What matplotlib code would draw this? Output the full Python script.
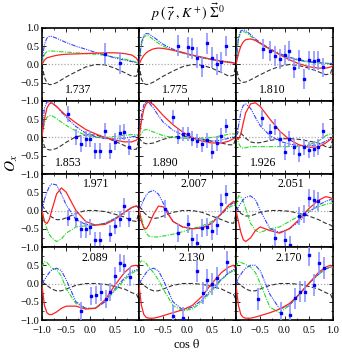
import matplotlib
matplotlib.use('Agg')
import matplotlib.pyplot as plt
import numpy as np

plt.rcParams['font.family'] = ['Liberation Serif', 'DejaVu Serif']
plt.rcParams['mathtext.fontset'] = 'stix'
plt.rcParams['axes.unicode_minus'] = True

# common cos(theta) nodes for model curves
grid = [-1.0, -0.95, -0.9, -0.85, -0.8, -0.7, -0.6, -0.5, -0.3, -0.1, 0.1, 0.3, 0.5, 0.7, 0.85, 0.95, 1.0]

energies = ['1.737', '1.775', '1.810', '1.853', '1.890', '1.926',
            '1.971', '2.007', '2.051', '2.089', '2.130', '2.170']

red = [
    [0.0, 0.12, 0.18, 0.2, 0.22, 0.25, 0.27, 0.28, 0.29, 0.3, 0.31, 0.32, 0.32, 0.3, 0.26, 0.17, 0.05],
    [0.0, 0.15, 0.25, 0.32, 0.37, 0.43, 0.45, 0.44, 0.39, 0.33, 0.26, 0.2, 0.14, 0.09, 0.06, 0.04, 0.02],
    [0.0, 0.3, 0.5, 0.62, 0.68, 0.7, 0.66, 0.58, 0.42, 0.27, 0.13, 0.02, -0.06, -0.1, -0.1, -0.07, -0.03],
    [0.05, 0.5, 0.8, 0.92, 0.95, 0.85, 0.72, 0.6, 0.4, 0.22, 0.1, 0.0, -0.07, -0.12, -0.12, -0.07, 0.0],
    [0.0, 0.45, 0.78, 0.93, 0.98, 0.9, 0.75, 0.6, 0.35, 0.15, 0.0, -0.1, -0.15, -0.15, -0.1, -0.03, 0.0],
    [0.0, -0.05, 0.1, 0.4, 0.68, 0.92, 0.95, 0.85, 0.5, 0.18, -0.06, -0.2, -0.27, -0.26, -0.15, -0.05, 0.0],
    [0.0, -0.3, -0.36, -0.25, 0.0, 0.45, 0.62, 0.5, 0.0, -0.3, -0.4, -0.38, -0.25, -0.05, 0.08, 0.13, 0.07],
    [0.05, -0.3, -0.48, -0.5, -0.4, -0.1, 0.12, 0.1, -0.3, -0.45, -0.5, -0.48, -0.35, -0.08, 0.15, 0.25, 0.2],
    [0.0, -0.3, -0.6, -0.8, -0.85, -0.75, -0.55, -0.45, -0.55, -0.62, -0.5, -0.25, 0.05, 0.28, 0.38, 0.35, 0.3],
    [-0.05, -0.6, -0.8, -0.85, -0.85, -0.78, -0.68, -0.62, -0.62, -0.7, -0.68, -0.45, -0.05, 0.3, 0.48, 0.5, 0.42],
    [-0.05, -0.6, -0.85, -0.93, -0.95, -0.95, -0.92, -0.88, -0.8, -0.72, -0.6, -0.35, 0.0, 0.3, 0.45, 0.5, 0.4],
    [-0.05, -0.6, -0.85, -0.93, -0.95, -0.95, -0.92, -0.88, -0.8, -0.7, -0.55, -0.3, 0.0, 0.3, 0.45, 0.5, 0.45],
]
green = [
    [0.05, 0.28, 0.35, 0.37, 0.37, 0.36, 0.35, 0.34, 0.32, 0.3, 0.28, 0.25, 0.2, 0.15, 0.1, 0.06, 0.02],
    [0.05, 0.55, 0.75, 0.8, 0.78, 0.68, 0.58, 0.5, 0.4, 0.31, 0.24, 0.18, 0.13, 0.09, 0.06, 0.05, 0.03],
    [0.05, 0.7, 0.88, 0.9, 0.88, 0.78, 0.67, 0.57, 0.4, 0.28, 0.18, 0.11, 0.06, 0.04, 0.03, 0.02, 0.02],
    [0.05, 0.4, 0.55, 0.6, 0.6, 0.52, 0.42, 0.33, 0.18, 0.06, 0.0, 0.0, 0.03, 0.06, 0.08, 0.08, 0.07],
    [0.0, 0.12, 0.2, 0.22, 0.2, 0.15, 0.1, 0.05, 0.0, -0.02, -0.03, -0.02, 0.0, 0.05, 0.09, 0.1, 0.08],
    [0.05, -0.15, -0.27, -0.3, -0.28, -0.25, -0.25, -0.25, -0.25, -0.25, -0.25, -0.24, -0.2, -0.1, 0.05, 0.1, 0.07],
    [0.0, -0.3, -0.5, -0.65, -0.75, -0.85, -0.78, -0.62, -0.45, -0.42, -0.4, -0.35, -0.22, -0.05, 0.08, 0.12, 0.05],
    [0.0, -0.2, -0.45, -0.62, -0.7, -0.73, -0.72, -0.7, -0.65, -0.58, -0.5, -0.42, -0.3, -0.1, 0.08, 0.15, 0.12],
    [0.1, 0.4, 0.38, 0.25, 0.05, -0.35, -0.55, -0.6, -0.5, -0.45, -0.3, -0.15, 0.0, 0.1, 0.17, 0.2, 0.2],
    [0.45, 0.6, 0.58, 0.5, 0.42, 0.38, 0.2, -0.15, -0.55, -0.68, -0.68, -0.5, -0.2, 0.1, 0.28, 0.35, 0.3],
    [0.55, 0.62, 0.6, 0.55, 0.45, 0.3, 0.1, -0.15, -0.6, -0.75, -0.7, -0.5, -0.2, 0.1, 0.28, 0.35, 0.3],
    [0.45, 0.6, 0.58, 0.55, 0.52, 0.45, 0.3, 0.0, -0.65, -0.8, -0.6, -0.3, 0.0, 0.25, 0.4, 0.45, 0.42],
]
blue = [
    [0.1, 0.55, 0.72, 0.77, 0.77, 0.72, 0.66, 0.6, 0.5, 0.42, 0.33, 0.26, 0.18, 0.12, 0.08, 0.05, 0.02],
    [0.05, 0.6, 0.8, 0.85, 0.84, 0.75, 0.65, 0.55, 0.42, 0.32, 0.25, 0.19, 0.14, 0.1, 0.07, 0.05, 0.03],
    [0.05, 0.75, 0.92, 0.95, 0.93, 0.82, 0.7, 0.6, 0.43, 0.3, 0.2, 0.13, 0.08, 0.05, 0.04, 0.03, 0.02],
    [0.1, 0.8, 0.97, 0.98, 0.95, 0.85, 0.7, 0.55, 0.3, 0.12, 0.02, -0.03, -0.04, -0.02, 0.02, 0.04, 0.05],
    [0.0, 0.6, 0.9, 0.97, 0.96, 0.8, 0.6, 0.42, 0.2, 0.07, -0.02, -0.08, -0.1, -0.07, -0.02, 0.02, 0.03],
    [0.0, 0.3, 0.7, 0.88, 0.92, 0.8, 0.55, 0.32, 0.05, -0.1, -0.18, -0.22, -0.23, -0.2, -0.1, -0.02, 0.0],
    [0.0, 0.3, 0.5, 0.65, 0.73, 0.7, 0.45, 0.15, -0.25, -0.38, -0.4, -0.35, -0.22, -0.05, 0.08, 0.12, 0.05],
    [0.0, 0.15, 0.3, 0.42, 0.5, 0.55, 0.45, 0.2, -0.3, -0.45, -0.5, -0.47, -0.35, -0.1, 0.12, 0.22, 0.12],
    [0.0, 0.1, 0.2, 0.3, 0.36, 0.4, 0.3, 0.0, -0.5, -0.6, -0.5, -0.3, -0.05, 0.15, 0.25, 0.3, 0.28],
    [0.0, 0.1, 0.2, 0.3, 0.37, 0.42, 0.35, 0.1, -0.5, -0.68, -0.68, -0.5, -0.15, 0.15, 0.33, 0.38, 0.35],
    [0.0, 0.1, 0.2, 0.3, 0.38, 0.42, 0.35, 0.1, -0.5, -0.72, -0.65, -0.45, -0.15, 0.12, 0.3, 0.38, 0.35],
    [0.0, 0.15, 0.25, 0.35, 0.42, 0.5, 0.5, 0.35, -0.3, -0.7, -0.6, -0.3, 0.0, 0.25, 0.4, 0.45, 0.42],
]
black = [
    [0.0, -0.35, -0.5, -0.55, -0.55, -0.5, -0.42, -0.34, -0.2, -0.07, 0.0, -0.01, -0.1, -0.22, -0.32, -0.32, 0.0],
    [0.0, -0.4, -0.52, -0.55, -0.54, -0.48, -0.4, -0.32, -0.18, -0.06, 0.0, -0.02, -0.1, -0.22, -0.32, -0.3, 0.0],
    [0.0, -0.38, -0.47, -0.49, -0.48, -0.42, -0.35, -0.28, -0.15, -0.05, 0.0, -0.03, -0.1, -0.2, -0.28, -0.25, 0.0],
    [0.0, -0.25, -0.32, -0.34, -0.34, -0.3, -0.22, -0.13, 0.02, 0.07, 0.07, 0.0, -0.1, -0.22, -0.33, -0.32, 0.0],
    [0.0, -0.1, -0.15, -0.17, -0.17, -0.15, -0.1, -0.05, 0.02, 0.03, 0.0, -0.05, -0.1, -0.15, -0.2, -0.2, 0.0],
    [0.05, 0.15, 0.12, 0.05, -0.02, -0.12, -0.15, -0.14, -0.08, -0.04, -0.03, -0.05, -0.1, -0.15, -0.25, -0.28, 0.0],
    [0.15, 0.05, -0.05, -0.12, -0.18, -0.25, -0.25, -0.2, -0.08, 0.0, 0.0, -0.03, -0.1, -0.18, -0.28, -0.3, 0.0],
    [0.1, 0.05, -0.05, -0.12, -0.18, -0.22, -0.2, -0.15, -0.05, 0.0, 0.0, -0.05, -0.15, -0.25, -0.33, -0.35, -0.1],
    [0.1, 0.0, -0.08, -0.12, -0.15, -0.15, -0.1, -0.05, 0.0, 0.0, -0.02, -0.08, -0.15, -0.25, -0.35, -0.4, -0.45],
    [0.05, 0.0, -0.05, -0.1, -0.15, -0.2, -0.2, -0.15, -0.05, 0.0, 0.0, -0.02, -0.08, -0.15, -0.25, -0.3, -0.45],
    [0.05, 0.0, -0.05, -0.1, -0.15, -0.2, -0.2, -0.15, -0.05, 0.0, 0.0, -0.02, -0.08, -0.15, -0.25, -0.3, -0.45],
    [0.05, 0.0, -0.05, -0.1, -0.15, -0.2, -0.2, -0.15, -0.05, 0.0, 0.0, -0.02, -0.08, -0.15, -0.25, -0.3, -0.45],
]

# measured data points: cos(theta), O_x, error
data_x = [
    [0.30, 0.60],
    [-0.20, 0.00, 0.10, 0.20, 0.30, 0.40, 0.50, 0.60, 0.70, 0.80],
    [-0.44, -0.30, -0.19, -0.09, 0.00, 0.10, 0.20, 0.30, 0.40, 0.50, 0.60, 0.70, 0.80],
    [-0.46, -0.30, -0.19, -0.09, 0.00, 0.10, 0.20, 0.30, 0.40, 0.50, 0.60, 0.70, 0.80],
    [-0.30, -0.19, -0.09, 0.00, 0.10, 0.20, 0.30, 0.40, 0.50, 0.60, 0.70, 0.80],
    [-0.46, -0.30, -0.19, -0.09, 0.00, 0.10, 0.20, 0.30, 0.40, 0.50, 0.60, 0.70, 0.80],
    [-0.46, -0.30, -0.19, -0.09, 0.00, 0.10, 0.20, 0.40, 0.50, 0.60, 0.70, 0.80],
    [-0.46, -0.19, 0.00, 0.10, 0.20, 0.30, 0.40, 0.50, 0.60, 0.70, 0.80],
    [-0.19, 0.01, 0.11, 0.30, 0.41, 0.51, 0.60, 0.70],
    [-0.20, 0.01, 0.11, 0.21, 0.31, 0.41, 0.51, 0.61, 0.70, 0.81],
    [-0.29, -0.10, 0.20, 0.31, 0.40, 0.51, 0.60, 0.81],
    [-0.55, -0.07, 0.12, 0.22, 0.32, 0.42, 0.50, 0.61, 0.72, 0.81],
]
data_y = [
    [0.28, 0.03],
    [0.52, 0.47, 0.44, 0.19, -0.05, 0.58, 0.19, 0.00, 0.06, 0.50],
    [0.42, 0.36, 0.23, 0.15, 0.26, 0.36, -0.10, 0.14, -0.39, 0.11, 0.10, 0.11, -0.08],
    [0.65, 0.02, -0.17, -0.04, -0.04, -0.38, -0.38, 0.18, -0.36, -0.11, 0.11, 0.14, -0.25],
    [0.56, 0.02, 0.10, 0.10, -0.03, -0.10, -0.19, -0.08, -0.39, -0.16, 0.05, 0.31],
    [0.53, 0.14, 0.30, -0.04, -0.41, -0.04, -0.25, -0.45, -0.27, -0.34, -0.32, -0.25, 0.17],
    [-0.21, -0.22, -0.52, -0.52, -0.45, -0.80, -0.80, -0.63, -0.43, -0.22, 0.11, -0.24],
    [0.05, -0.62, -0.36, -0.77, -0.89, -0.48, -0.45, -0.57, -0.41, 0.19, 0.44],
    [-0.76, -0.81, -0.95, -0.15, -0.10, 0.35, 0.30, 0.25],
    [-0.75, -0.34, -0.32, -0.23, -0.43, -0.23, 0.21, 0.57, 0.52, 0.19],
    [-0.89, -0.95, 0.34, -0.27, 0.10, -0.01, 0.14, 0.58],
    [-0.42, -0.82, -0.86, -0.41, -0.22, -0.22, 0.78, -0.04, 0.55, 0.43],
]
err = [0.3, 0.28, 0.27, 0.22, 0.2, 0.22, 0.22, 0.25, 0.25, 0.25, 0.3, 0.3]

label_pos = [(-0.25, -0.70)] * 3 + [(-0.45, -0.70)] * 3 + [(0.12, 0.72)] * 3 + [(0.09, 0.69)] * 3

fig, axes = plt.subplots(4, 3, figsize=(3.42, 3.57), dpi=100)
fig.subplots_adjust(left=0.1228, right=0.9737, top=0.9216, bottom=0.1036, wspace=0, hspace=0)

ticks = [-1.0, -0.5, 0.0, 0.5, 1.0]
for i, ax in enumerate(axes.flat):
    r, c = divmod(i, 3)
    ax.axhline(0, color='#aaaaaa', lw=0.9, ls=(0, (1, 1.5)), zorder=1)
    ax.plot(grid, black[i], color='#333333', lw=0.8, ls=(0, (4, 2)), zorder=2)
    ax.plot(grid, green[i], color='#22dd22', lw=0.8, ls=(0, (4, 1.2, 1, 1.2)), zorder=3)
    ax.plot(grid, blue[i], color='#3344ff', lw=0.8, ls=(0, (4, 1, 1, 1, 1, 1)), zorder=3)
    ax.plot(grid, red[i], color='#ff2222', lw=0.9, zorder=4)
    ax.errorbar(data_x[i], data_y[i], yerr=err[i], fmt='s', ms=2.1, color='#0000ff',
                ecolor='#8f95ff', elinewidth=1.2, capsize=0, zorder=5)
    lx, ly = label_pos[i]
    ax.text(lx, ly, energies[i], ha='center', va='center', fontsize=8.5)
    ax.set_xlim(-1, 1)
    ax.set_ylim(-1, 1)
    ax.set_xticks(ticks)
    ax.set_yticks(ticks)
    ax.set_xticks(np.arange(-1, 1.01, 0.25), minor=True)
    ax.set_yticks(np.arange(-1, 1.01, 0.25), minor=True)
    ax.tick_params(which='both', direction='in', top=True, right=True, labelsize=7.5)
    ax.tick_params(axis='y', pad=2)
    ax.tick_params(axis='x', pad=4)
    ax.tick_params(which='major', length=3, width=0.6)
    ax.tick_params(which='minor', length=1.5, width=0.5)
    for s in ax.spines.values():
        s.set_linewidth(1.2)
    if c == 0:
        labs = ['\u22121.0', '\u22120.5', '0.0', '0.5', '1.0' if r == 0 else '']
        ax.set_yticklabels(labs)
    else:
        ax.tick_params(labelleft=False)
    if r == 3:
        labs = ['\u22121.0' if c == 0 else '', '\u22120.5', '0.0', '0.5', '1.0']
        ax.set_xticklabels(labs)
    else:
        ax.tick_params(labelbottom=False)

fig.text(0.547, 0.966, r'$p\;(\,\vec{\gamma}\;,K^+)\;\vec{\Sigma}^0$', ha='center', va='center', fontsize=10)
fig.text(0.035, 0.543, r'$O_x$', ha='center', va='center', rotation=90, fontsize=11)
fig.text(0.547, 0.034, r'cos $\mathrm{\theta}$', ha='center', va='center', fontsize=9)

fig.savefig('out.png', dpi=100)
